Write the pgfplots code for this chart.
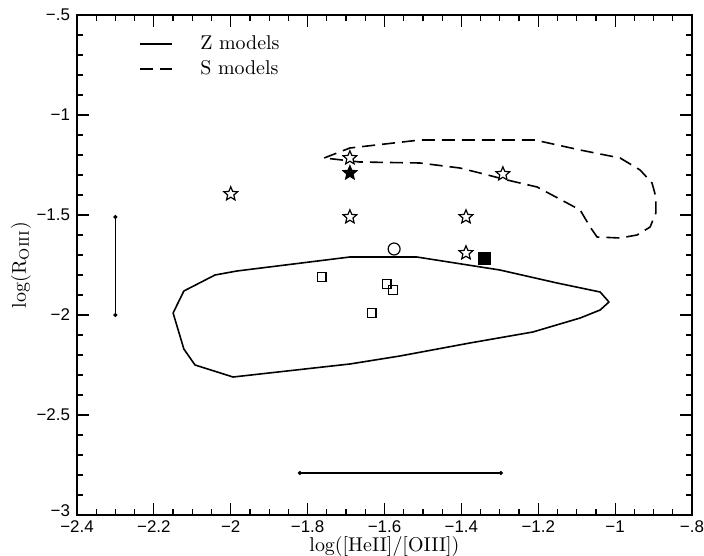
\documentclass[border=0pt]{standalone}
\usepackage{fontspec}
\usepackage{pgfplots}
\pgfplotsset{compat=1.18}
\usetikzlibrary{plotmarks}
\newfontfamily\ticksf{Liberation Sans}

\pgfdeclareplotmark{fivestar}{%
  \pgfpathmoveto{\pgfpointpolar{90}{\pgfplotmarksize}}%
  \pgfpathlineto{\pgfpointpolar{126}{0.45\pgfplotmarksize}}%
  \pgfpathlineto{\pgfpointpolar{162}{\pgfplotmarksize}}%
  \pgfpathlineto{\pgfpointpolar{198}{0.45\pgfplotmarksize}}%
  \pgfpathlineto{\pgfpointpolar{234}{\pgfplotmarksize}}%
  \pgfpathlineto{\pgfpointpolar{270}{0.45\pgfplotmarksize}}%
  \pgfpathlineto{\pgfpointpolar{306}{\pgfplotmarksize}}%
  \pgfpathlineto{\pgfpointpolar{342}{0.45\pgfplotmarksize}}%
  \pgfpathlineto{\pgfpointpolar{18}{\pgfplotmarksize}}%
  \pgfpathlineto{\pgfpointpolar{54}{0.45\pgfplotmarksize}}%
  \pgfpathclose
  \pgfusepathqfillstroke
}

\begin{document}
\begin{tikzpicture}
\useasboundingbox (-38.5bp,-20.5bp) rectangle (313.5bp,257.5bp);
\begin{axis}[
  scale only axis, width=307.5bp, height=250bp,
  xmin=-2.4, xmax=-0.8, ymin=-3, ymax=-0.5,
  xtick={-2.4,-2.2,-2,-1.8,-1.6,-1.4,-1.2,-1,-0.8},
  xticklabels={−2.4,−2.2,−2,−1.8,−1.6,−1.4,−1.2,−1,−.8},
  ytick={-3,-2.5,-2,-1.5,-1,-0.5},
  yticklabels={\raisebox{-0.5bp}[0pt][0pt]{−3},−2.5,−2,−1.5,−1,−.5},
  minor x tick num=3, minor y tick num=4,
  xtick pos=both, ytick pos=both, tick align=inside,
  major tick length=6bp, minor tick length=3bp,
  tick style={black, line width=0.6pt},
  axis line style={line width=0.8pt},
  ticklabel style={font=\ticksf\fontsize{8.5}{9.5}\selectfont},
  xticklabel style={yshift=0.5bp},
  xlabel={log([HeII]/[OIII])}, ylabel={log(R$_{\rm OIII}$)},
  label style={font=\fontsize{10}{12}\selectfont},
  xlabel style={yshift=5bp},
  ylabel style={yshift=-4bp},
  legend style={draw=none, fill=none, at={(0.09,0.975)}, anchor=north west,
    font=\fontsize{10}{12}\selectfont, row sep=0bp},
  legend cell align=left,
  legend image code/.code={\draw[#1] (0bp,0bp) -- (16bp,0bp);},
]
% Z models (solid contour)
\addplot[black, line width=0.8pt, line join=round] coordinates {
 (-2.150,-1.99) (-2.122,-1.88) (-2.041,-1.80) (-1.984,-1.78) (-1.690,-1.71)
 (-1.516,-1.71) (-1.300,-1.775) (-1.151,-1.84) (-1.039,-1.885) (-1.016,-1.935)
 (-1.039,-1.975) (-1.091,-2.015) (-1.214,-2.085) (-1.378,-2.14) (-1.560,-2.205)
 (-1.690,-2.245) (-1.994,-2.31) (-2.093,-2.25) (-2.122,-2.17) (-2.150,-1.99)
};
\addlegendentry{\hspace*{12bp}Z models}
% S models (dashed contour)
\addplot[black, line width=0.8pt, dash pattern=on 6.5bp off 3.5bp, line join=round] coordinates {
 (-1.757,-1.215) (-1.690,-1.165) (-1.508,-1.125) (-1.352,-1.125) (-1.209,-1.125)
 (-1.091,-1.175) (-0.987,-1.215) (-0.935,-1.275) (-0.904,-1.34) (-0.894,-1.41)
 (-0.894,-1.49) (-0.909,-1.56) (-0.943,-1.60) (-0.987,-1.615) (-1.047,-1.61)
 (-1.065,-1.56) (-1.091,-1.475) (-1.203,-1.36) (-1.281,-1.325) (-1.352,-1.29)
 (-1.404,-1.265) (-1.508,-1.24) (-1.664,-1.235) (-1.757,-1.215)
};
\addlegendentry{\hspace*{12bp}S models}
% open stars
\addplot[only marks, mark=fivestar, mark size=3.6bp,
  mark options={fill=white, draw=black, line width=0.6pt}, forget plot] coordinates {
 (-2.0,-1.395) (-1.69,-1.215) (-1.69,-1.51) (-1.388,-1.51) (-1.388,-1.69) (-1.292,-1.295)
};
% filled star
\addplot[only marks, mark=fivestar, mark size=3.6bp,
  mark options={fill=black, draw=black, line width=0.6pt}, forget plot] coordinates {
 (-1.69,-1.29)
};
% open circle
\addplot[only marks, mark=o, mark size=3bp,
  mark options={draw=black, line width=0.6pt}, forget plot] coordinates {
 (-1.575,-1.67)
};
% filled square
\addplot[only marks, mark=square*, mark size=3bp,
  mark options={fill=black, draw=black}, forget plot] coordinates {
 (-1.341,-1.715)
};
% open squares
\addplot[only marks, mark=square, mark size=2.1bp,
  mark options={draw=black, line width=0.6pt}, forget plot] coordinates {
 (-1.763,-1.81) (-1.594,-1.845) (-1.578,-1.875) (-1.633,-1.99)
};
% error bars
\addplot[black, line width=0.6pt, mark=*, mark size=0.7bp, forget plot] coordinates {
 (-2.3,-1.51) (-2.3,-2.0)
};
\addplot[black, line width=0.6pt, mark=*, mark size=0.7bp, forget plot] coordinates {
 (-1.82,-2.79) (-1.297,-2.79)
};
\end{axis}
\end{tikzpicture}
\end{document}
